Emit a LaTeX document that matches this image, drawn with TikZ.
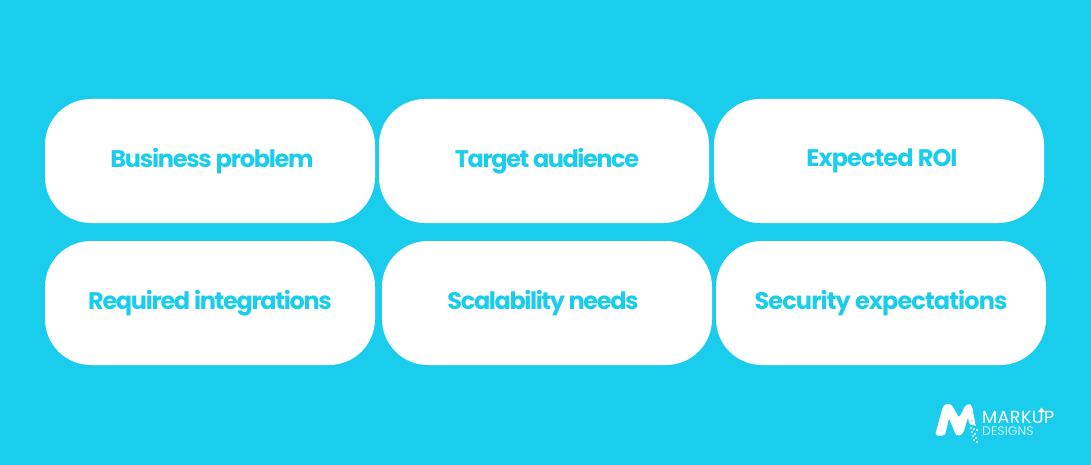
\documentclass[tikz,border=0pt]{standalone}
\usepackage{fontspec}
\setmainfont{Poppins}
\definecolor{skyback}{HTML}{1BCDED}
\tikzset{
  x=1pt, y=-1pt,
  goalbox/.style={fill=white, rounded corners=46pt, minimum width=330pt, minimum height=124pt, inner sep=0pt},
  goaltext/.style={inner sep=0pt, text=skyback, font=\fontsize{24}{28}\selectfont\bfseries\addfontfeatures{LetterSpace=#1}},
  logotext/.style={text=white, inner sep=0pt, anchor=west}
}
\begin{document}
\begin{tikzpicture}
\fill[skyback] (0,0) rectangle (1091,465);
\useasboundingbox (0,0) rectangle (1091,465);
% top row
\node[goalbox] (problem) at (210,161) {};
\node[goalbox] (audience) at (544,161) {};
\node[goalbox] (roi) at (879,161) {};
% bottom row
\node[goalbox] (integrations) at (210,303) {};
\node[goalbox] (scalability) at (547,303) {};
\node[goalbox] (security) at (881,303) {};
% labels
\node[goaltext=-5.2, xshift=2pt] at (problem) {Business problem};
\node[goaltext=-6, xshift=3pt] at (audience) {Target audience};
\node[goaltext=-3.8, xshift=3pt] at (roi) {Expected ROI};
\node[goaltext=-5.5] at (integrations) {Required integrations};
\node[goaltext=-5.8, xshift=-4pt] at (scalability) {Scalability needs};
\node[goaltext=-3.7] at (security) {Security expectations};
% logo
\fill[white, rounded corners=2.5pt] (935,435.5) -- (943,406) -- (947,403.5) -- (952,405) -- (959,418) -- (965,406) -- (969,403.5) -- (972,406) -- (975.5,425) -- (969.5,425) -- (968,417) -- (964,431) -- (961,435.5) -- (956,435.5) -- (949,418) -- (945,435.5) -- cycle;
\foreach \px/\py in {971/420, 974/424, 970/427, 973/428, 976/429, 971/431, 974/433, 972/435, 975/437, 973/439, 976/441}
  \fill[white!75!skyback] (\px,\py) rectangle +(2,2);
\node[logotext, font=\fontsize{17.5}{18}\selectfont\addfontfeatures{LetterSpace=2.5}] (markup) at (982,417) {MARKUP};
\node[logotext, font=\fontsize{12.5}{14}\selectfont, text=white!75!skyback] (designs) at (982,431) {DESIGNS};
% arrow on the U
\draw[white, line width=1.3pt] (1041.5,420) -- (1041.5,411);
\fill[white] (1041.5,407.5) -- (1045,412) -- (1038,412) -- cycle;
\end{tikzpicture}
\end{document}
